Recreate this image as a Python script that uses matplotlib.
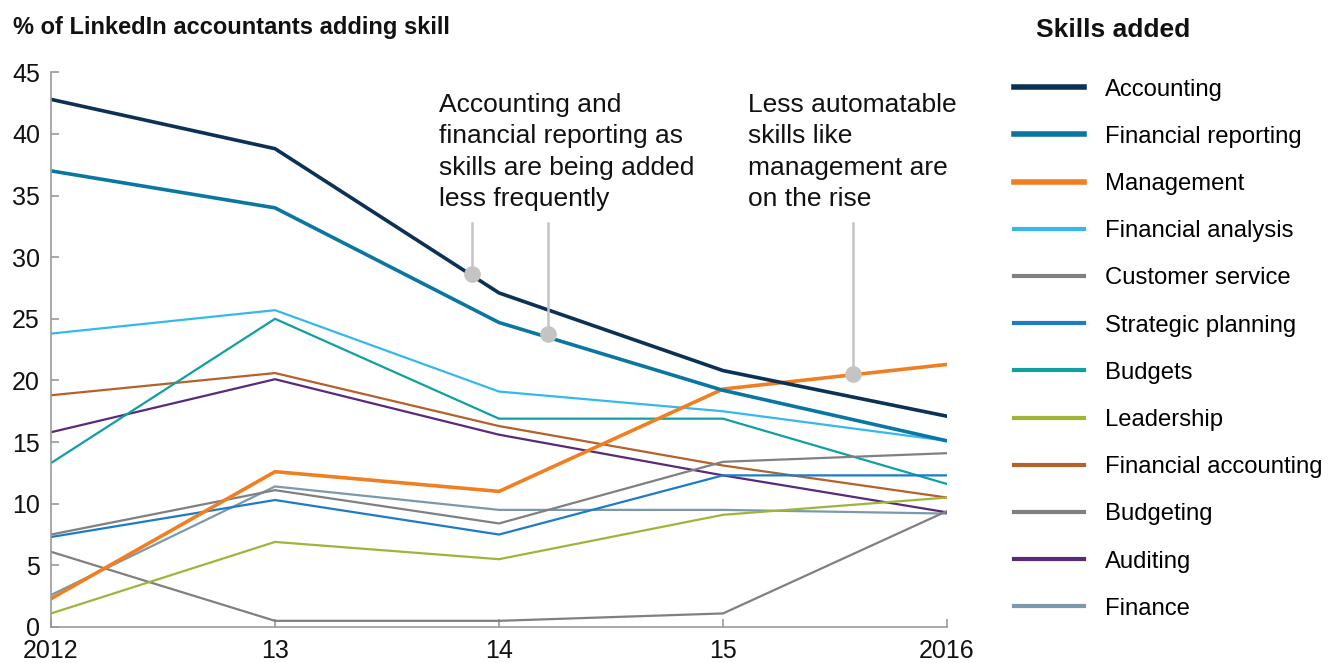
import matplotlib.pyplot as plt
from matplotlib.lines import Line2D

plt.rcParams['font.family'] = ['Liberation Sans', 'DejaVu Sans']

years = [2012, 2013, 2014, 2015, 2016]
year_labels = ['2012', '13', '14', '15', '2016']

skills = ['Accounting', 'Financial reporting', 'Management', 'Financial analysis',
          'Customer service', 'Strategic planning', 'Budgets', 'Leadership',
          'Financial accounting', 'Budgeting', 'Auditing', 'Finance']

accounting = [42.8, 38.8, 27.1, 20.8, 17.1]
financial_reporting = [37.0, 34.0, 24.7, 19.2, 15.1]
management = [2.3, 12.6, 11.0, 19.3, 21.3]
financial_analysis = [23.8, 25.7, 19.1, 17.5, 15.1]
customer_service = [7.5, 11.1, 8.4, 13.4, 14.1]
strategic_planning = [7.3, 10.3, 7.5, 12.3, 12.3]
budgets = [13.3, 25.0, 16.9, 16.9, 11.6]
leadership = [1.1, 6.9, 5.5, 9.1, 10.5]
financial_accounting = [18.8, 20.6, 16.3, 13.1, 10.5]
budgeting = [6.1, 0.5, 0.5, 1.1, 9.4]
auditing = [15.8, 20.1, 15.6, 12.3, 9.3]
finance = [2.6, 11.4, 9.5, 9.5, 9.2]

series = [accounting, financial_reporting, management, financial_analysis,
          customer_service, strategic_planning, budgets, leadership,
          financial_accounting, budgeting, auditing, finance]
colors = ['#0b3155', '#0a77a3', '#f07f22', '#35b9ea', '#808080', '#1c7cc8',
          '#10a0a2', '#9fb53a', '#b5612a', '#808080', '#5a2a7a', '#7a9aab']
widths = [2.6, 2.6, 2.6, 1.6, 1.6, 1.6, 1.6, 1.6, 1.6, 1.6, 1.6, 1.6]

# annotation anchors (x, y) on the lines
notes_x = [2013.88, 2014.22, 2015.58]
notes_y = [28.6, 23.8, 20.5]
note_top = 32.8

fig = plt.figure(figsize=(13.33, 6.63), dpi=100)
ax = fig.add_axes([0.0383, 0.0543, 0.6721, 0.8367])

# draw from last to first so the key lines sit on top
for s, c, w in reversed(list(zip(series, colors, widths))):
    ax.plot(years, s, color=c, linewidth=w, solid_joinstyle='miter')

for nx, ny in zip(notes_x, notes_y):
    ax.plot([nx, nx], [ny, note_top], color='#c4c4c4', linewidth=1.8, zorder=5)
    ax.plot(nx, ny, 'o', color='#c4c4c4', markersize=11, zorder=6)

ax.text(2013.73, 43.3, 'Accounting and\nfinancial reporting as\nskills are being added\nless frequently',
        fontsize=19, va='top', ha='left', linespacing=1.38, color='#111111')
ax.text(2015.11, 43.3, 'Less automatable\nskills like\nmanagement are\non the rise',
        fontsize=19, va='top', ha='left', linespacing=1.38, color='#111111')

ax.set_xlim(2012, 2016)
ax.set_ylim(0, 45)
ax.set_xticks(years)
ax.set_xticklabels(year_labels)
ax.set_yticks(range(0, 46, 5))
for side in ['top', 'right']:
    ax.spines[side].set_visible(False)
for side in ['left', 'bottom']:
    ax.spines[side].set_color('#999999')
    ax.spines[side].set_linewidth(1.2)
ax.tick_params(direction='in', length=6, width=1.2, color='#999999', labelsize=18,
               labelcolor='#111111')
ax.tick_params(axis='x', pad=9)
ax.tick_params(axis='y', pad=8)

fig.text(0.010, 0.958, '% of LinkedIn accountants adding skill', fontsize=17,
         fontweight='bold', va='center', ha='left', color='#111111')
fig.text(0.777, 0.955, 'Skills added', fontsize=19, fontweight='bold',
         va='center', ha='left', color='#111111')

handles = [Line2D([0], [0], color=c, linewidth=4 if w > 2 else 3) for c, w in zip(colors, widths)]
fig.legend(handles, skills, loc='upper left', bbox_to_anchor=(0.761, 0.8815),
           frameon=False, fontsize=17.2, handlelength=2.9, handletextpad=0.88,
           labelspacing=1.055, borderaxespad=0, borderpad=0)

fig.savefig('out.png', dpi=100)
